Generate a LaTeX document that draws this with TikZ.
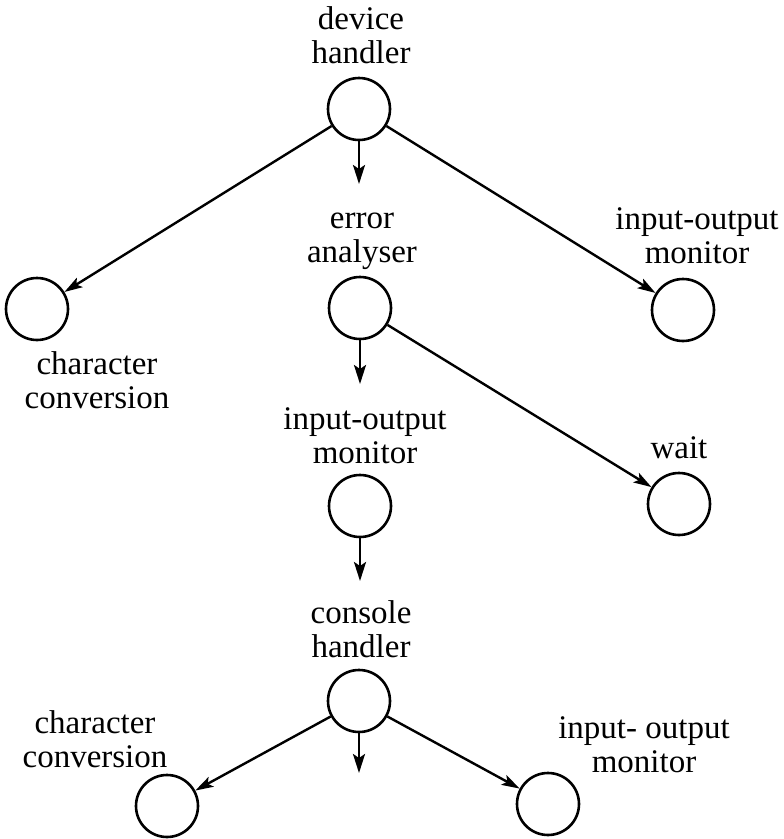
\documentclass[tikz,border=0pt]{standalone}
\usepackage{fontspec}
\setmainfont{Liberation Serif}
\usetikzlibrary{arrows.meta}
\begin{document}
\begin{tikzpicture}[x=1pt,y=-1pt,
  proc/.style={draw,circle,line width=2.6pt,minimum size=62pt,inner sep=0pt},
  lbl/.style={align=center,anchor=base,inner sep=0pt,
    font=\fontsize{33}{34}\selectfont},
  flow/.style={line width=2.6pt,-{Stealth[length=19pt,width=12pt,inset=4pt]}},
  calls/.style={line width=2.4pt,-{Stealth[length=18pt,width=11pt,inset=4pt]}}]
\useasboundingbox (0,0) rectangle (784,839);

% modules
\node[proc] (dev) at (359,109) {};
\node[proc] (cc1) at (37,309) {};
\node[proc] (err) at (360,308) {};
\node[proc] (io1) at (683,310) {};
\node[proc] (io2) at (360,506) {};
\node[proc] (wt)  at (679,504) {};
\node[proc] (con) at (359,701) {};
\node[proc] (cc2) at (167,806) {};
\node[proc] (io3) at (548,804) {};

% names (anchored at the baseline of the last line)
\node[lbl] (tdev) at (361,63)  {device\\handler};
\node[lbl] (terr) at (362,262) {error\\analyser};
\node[lbl] (tio1) at (697,263) {input-output\\monitor};
\node[lbl] (tcc1) at (97,408)  {character\\conversion};
\node[lbl] (tio2) at (365,463) {input-output\\monitor};
\node[lbl] (twt)  at (679,458) {wait};
\node[lbl] (tcon) at (361,657) {console\\handler};
\node[lbl] (tcc2) at (95,767)  {character\\conversion};
\node[lbl] (tio3) at (644,772) {input- output\\monitor};

% free ends of the downward arrows
\coordinate (d1) at (359,184);
\coordinate (d2) at (360,384);
\coordinate (d3) at (360,581);
\coordinate (d4) at (359,773);

% calls
\draw[calls] (dev) -- (cc1);
\draw[calls] (dev) -- (io1);
\draw[calls] (err) -- (wt);
\draw[calls] (con) -- (cc2);
\draw[calls] (con) -- (io3);

% sequence
\draw[flow] (dev.south) -- (d1);
\draw[flow] (err.south) -- (d2);
\draw[flow] (io2.south) -- (d3);
\draw[flow] (con.south) -- (d4);
\end{tikzpicture}
\end{document}
